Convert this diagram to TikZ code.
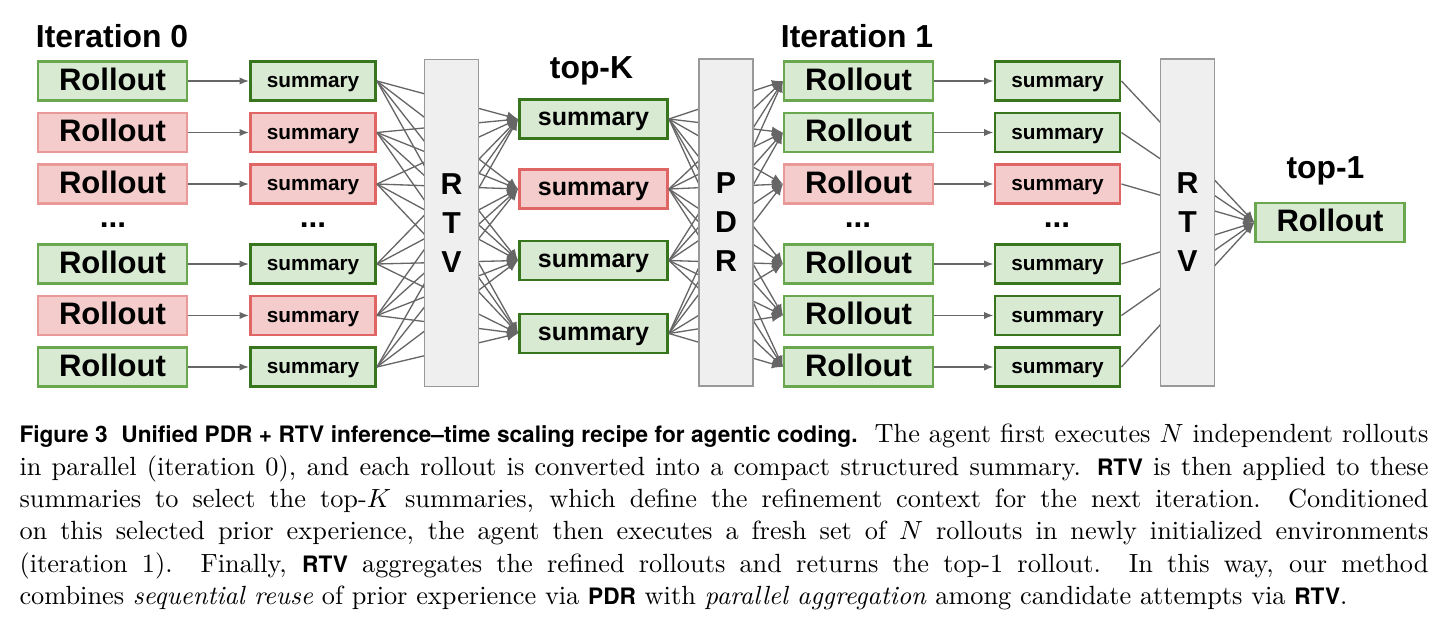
\documentclass[tikz,border=0pt]{standalone}
\usepackage{fontspec}
\newfontfamily\diafont{Liberation Sans}
\newfontfamily\capfont{TeX Gyre Heros}
\usetikzlibrary{arrows.meta}
\definecolor{pgreen}{HTML}{D9EAD3}
\definecolor{lgreen}{HTML}{6AA84F}
\definecolor{dgreen}{HTML}{38761D}
\definecolor{pred}{HTML}{F4CCCC}
\definecolor{lred}{HTML}{EA9999}
\definecolor{dred}{HTML}{E06666}
\definecolor{gatefill}{HTML}{EFEFEF}
\definecolor{gateline}{HTML}{999999}
\definecolor{wiregray}{HTML}{666666}
\newdimen\pxu \pxu=0.38pt
\newcommand\capbf[1]{{\capfont\bfseries\fontsize{8.6}{12.3}\selectfont #1}}
\begin{document}
\begin{tikzpicture}[x=0.38pt,y=-0.38pt,
box/.style={inner sep=0,minimum height=39\pxu,text=black,text depth=0pt},
roll/.style={box,minimum width=149\pxu,line width=0.8pt,text height=0.72em,font=\diafont\bfseries\fontsize{11.8}{13}\selectfont},
rollgood/.style={roll,draw=lgreen,fill=pgreen},
rollbad/.style={roll,draw=lred,fill=pred},
summ/.style={box,minimum width=125\pxu,line width=1.1pt,text height=0.53em,font=\diafont\bfseries\fontsize{7.9}{9}\selectfont},
summgood/.style={summ,draw=dgreen,fill=pgreen},
summbad/.style={summ,draw=dred,fill=pred},
topgood/.style={summgood,minimum width=148\pxu,font=\diafont\bfseries\fontsize{9.5}{11}\selectfont},
topbad/.style={summbad,minimum width=148\pxu,font=\diafont\bfseries\fontsize{9.5}{11}\selectfont},
gate/.style={draw=gateline,fill=gatefill,line width=0.5pt,minimum width=54\pxu,minimum height=327\pxu,align=center,font=\diafont\bfseries\fontsize{11.5}{14.8}\selectfont},
head/.style={anchor=base,inner sep=0,font=\diafont\bfseries\fontsize{12.1}{14}\selectfont},
dots/.style={anchor=base,inner sep=0,font=\diafont\bfseries\fontsize{12}{14}\selectfont},
link/.style={draw=wiregray,line width=0.6pt,-{Latex[length=3.6pt,width=2.8pt]}},
fan/.style={draw=wiregray,line width=0.5pt,-{Latex[length=4.2pt,width=3.6pt]}}]
\path[use as bounding box,fill=white](0,0)rectangle(1445,629);
\foreach \i/\y/\c in {1/81/good,2/132.5/bad,3/184/bad,4/264/good,5/315.5/bad,6/367/good}{
\node[roll\c](r\i)at(112.5,\y){Rollout};
\node[summ\c](s\i)at(313,\y){summary};}
\foreach \i/\y/\c in {1/81/good,2/132.5/good,3/184/bad,4/264/good,5/315.5/good,6/367/good}{
\node[roll\c](q\i)at(858.5,\y){Rollout};
\node[summ\c](t\i)at(1057.5,\y){summary};}
\foreach \j/\y/\c in {1/119/good,2/189/bad,3/260.5/good,4/333.5/good}
\node[top\c](k\j)at(593.5,\y){summary};
\node[rollgood](best)at(1330,222.5){Rollout};
\node[dots](d0)at(113,227){...};
\node[dots](e0)at(313,227){...};
\node[dots](d1)at(858,227){...};
\node[dots](e1)at(1057,227){...};
\node[head](it0)at(112,47){Iteration 0};
\node[head](it1)at(857,47){Iteration 1};
\node[head](topk)at(591.5,78){top-K};
\node[head](top1)at(1325.5,178){top-1};
\foreach \i in {1,...,6}{
\draw[link](r\i)--(s\i);
\draw[link](q\i)--(t\i);
\draw[fan](t\i.east)--(best.west);
\foreach \j in {1,...,4}{
\draw[fan](s\i.east)--(k\j.west);
\draw[fan](k\j.east)--(q\i.west);}}
\node[gate](rtv0)at(451.5,223){R\\T\\V};
\node[gate](pdr)at(726,222.5){P\\D\\R};
\node[gate](rtv1)at(1187.5,222.5){R\\T\\V};
\node[anchor=base west,inner sep=0,text width=1409\pxu,align=justify,font=\fontsize{10}{12.3}\selectfont](caption)at(19,442.7){\capbf{Figure 3\hspace{0.6em}Unified PDR + RTV inference–time scaling recipe for agentic coding.}\hspace{0.65em}The agent first executes $N$ independent rollouts\linebreak
in parallel (iteration 0), and each rollout is converted into a compact structured summary. \capbf{RTV} is then applied to these\linebreak
summaries to select the top-$K$ summaries, which define the refinement context for the next iteration. Conditioned\linebreak
on this selected prior experience, the agent then executes a fresh set of $N$ rollouts in newly initialized environments\linebreak
(iteration 1). Finally, \capbf{RTV} aggregates the refined rollouts and returns the top-1 rollout. In this way, our method\linebreak
combines \textit{sequential reuse} of prior experience via \capbf{PDR} with \textit{parallel aggregation} among candidate attempts via \capbf{RTV}.};
\end{tikzpicture}
\end{document}
